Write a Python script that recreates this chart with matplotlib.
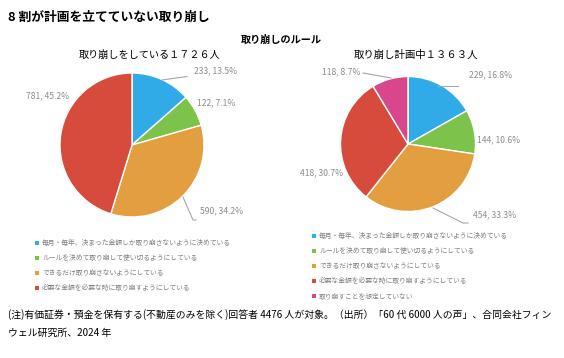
import numpy as np
import matplotlib
matplotlib.use("Agg")
import matplotlib.pyplot as plt
from matplotlib.patches import Patch

plt.rcParams['font.family'] = ['Noto Sans CJK JP', 'DejaVu Sans']

# ---------------- data ----------------
categories = [
    "毎月・毎年、決まった金額しか取り崩さないように決めている",
    "ルールを決めて取り崩して使い切るようにしている",
    "できるだけ取り崩さないようにしている",
    "必要な金額を必要な時に取り崩すようにしている",
    "取り崩すことを想定していない",
]
left_counts = [233, 122, 590, 781]
left_pcts = [13.5, 7.1, 34.2, 45.2]
right_counts = [229, 144, 454, 418, 118]
right_pcts = [16.8, 10.6, 33.3, 30.7, 8.7]
colors = ["#31ABE8", "#7DC24B", "#E39E3F", "#D64B3B", "#D8468B"]

title = "8 割が計画を立てていない取り崩し"
subtitle = "取り崩しのルール"
left_title = "取り崩しをしている１７２６人"
right_title = "取り崩し計画中１３６３人"
note_lines = ["(注)有価証券・預金を保有する(不動産のみを除く)回答者 4476 人が対象。（出所）「60 代 6000 人の声」、合同会社フィン",
              "ウェル研究所、2024 年"]

W, H = 564, 358
fig = plt.figure(figsize=(W / 100, H / 100), dpi=100)
ax = fig.add_axes([0, 0, 1, 1])

def Y(y):
    return H - y

LC = (132, Y(145)); LR = 72
RC = (408, Y(144)); RR = 67.5

lw, _ = ax.pie(left_counts, colors=colors[:4], startangle=90, counterclock=False,
               center=LC, radius=LR, wedgeprops=dict(edgecolor="white", linewidth=1.0))
rw, _ = ax.pie(right_counts, colors=colors, startangle=90, counterclock=False,
               center=RC, radius=RR, wedgeprops=dict(edgecolor="white", linewidth=1.0))

ax.set_xlim(0, W)
ax.set_ylim(0, H)
ax.set_aspect('auto')
ax.axis('off')

lab_kw = dict(fontsize=6.2, color="#8C8C8C", ha="left", va="center")
LINE = dict(color="#A6A6A6", lw=0.8)

def lab(c, p):
    return f"{c}, {p}%"

# left labels and leader lines
ax.plot([162, 187], [Y(80), Y(76.5)], **LINE)
ax.text(194, Y(71), lab(left_counts[0], left_pcts[0]), **lab_kw)
ax.text(197, Y(103), lab(left_counts[1], left_pcts[1]), **lab_kw)
ax.plot([183, 193, 196], [Y(197), Y(220), Y(220)], **LINE)
ax.text(200, Y(211), lab(left_counts[2], left_pcts[2]), **lab_kw)
ax.text(26, Y(96), lab(left_counts[3], left_pcts[3]), **lab_kw)

# right labels and leader lines
ax.plot([438, 458], [Y(85.5), Y(85.5)], **LINE)
ax.text(469, Y(75), lab(right_counts[0], right_pcts[0]), **lab_kw)
ax.text(477, Y(140), lab(right_counts[1], right_pcts[1]), **lab_kw)
ax.plot([433, 463, 468], [Y(208), Y(223), Y(223)], **LINE)
ax.text(473, Y(215), lab(right_counts[2], right_pcts[2]), **lab_kw)
ax.text(300, Y(173), lab(right_counts[3], right_pcts[3]), **lab_kw)
ax.plot([363, 391], [Y(73), Y(78)], **LINE)
ax.text(322, Y(72), lab(right_counts[4], right_pcts[4]), **lab_kw)

# titles
ax.text(8, Y(17), title, fontsize=9.2, fontweight="bold", ha="left", va="center", color="#000000")
ax.text(281, Y(40), subtitle, fontsize=7.3, fontweight="bold", ha="center", va="center", color="#000000")
ax.text(150, Y(55), left_title, fontsize=7.3, ha="center", va="center", color="#000000")
ax.text(416, Y(55), right_title, fontsize=7.5, ha="center", va="center", color="#000000")

# legends
def make_legend(n, x, y):
    handles = [Patch(facecolor=colors[i], edgecolor="none") for i in range(n)]
    leg = ax.legend(handles, categories[:n], loc="upper left",
                    bbox_to_anchor=(x / W, 1 - y / H), bbox_transform=fig.transFigure,
                    frameon=False, fontsize=4.9, labelcolor="#808080",
                    handlelength=0.55, handleheight=0.55, handletextpad=0.5,
                    labelspacing=1.05, borderpad=0, borderaxespad=0)
    return leg

leg1 = make_legend(4, 35, 239)
ax.add_artist(leg1)
leg2 = make_legend(5, 312, 232)

ax.text(8, Y(315), note_lines[0], fontsize=7.1, ha="left", va="center", color="#000000")
ax.text(8, Y(333), note_lines[1], fontsize=7.1, ha="left", va="center", color="#000000")

fig.savefig("out.png", dpi=100)
